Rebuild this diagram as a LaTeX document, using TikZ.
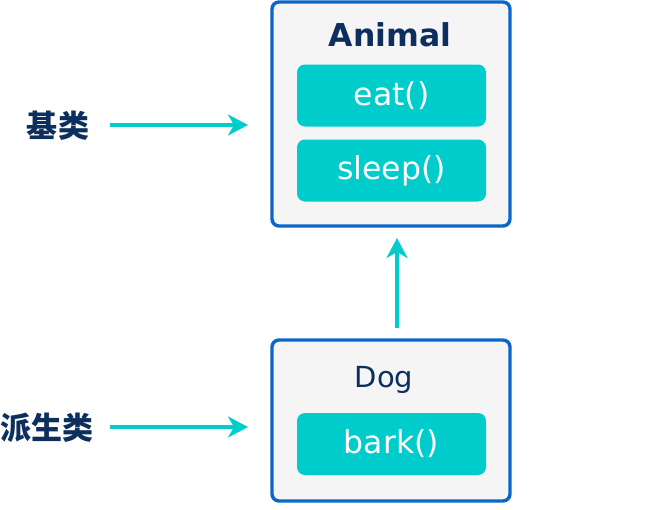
\documentclass[tikz,border=0pt]{standalone}
\usepackage{fontspec}
\setmainfont{DejaVu Sans}
\newfontfamily\cjk{Noto Sans CJK SC}
\usetikzlibrary{arrows.meta}
\definecolor{navy}{HTML}{0D2F5E}
\definecolor{boxblue}{HTML}{0A66C8}
\definecolor{teal}{HTML}{00CCCC}
\definecolor{panel}{HTML}{F5F5F6}
\begin{document}
\begin{tikzpicture}[x=1pt,y=-1pt,
  classbox/.style={draw=boxblue,line width=3.4pt,fill=panel,rounded corners=7pt},
  method/.style={fill=teal,rounded corners=8pt,text=white,font=\fontsize{31.5}{36}\selectfont,inner sep=0pt,minimum width=189pt,minimum height=62pt},
  lbl/.style={text=navy,font=\cjk\bfseries\fontsize{31}{34}\selectfont},
  link/.style={draw=teal,line width=3.2pt,-{Stealth[length=20pt,width=21pt,inset=6pt]}}]
\useasboundingbox (0,0) rectangle (650,509);
\draw[classbox] (272,2) rectangle (510,226);
\draw[classbox] (272,340) rectangle (510,501);
\node[text=navy,font=\bfseries\fontsize{31.5}{36}\selectfont] (animal) at (390,35) {Animal};
\node[method] (eat) at (391.5,95.5) {eat()};
\node[method] (sleep) at (391.5,170.5) {sleep()};
\node[text=navy,font=\fontsize{29}{34}\selectfont] (dog) at (384,380) {Dog};
\node[method] (bark) at (391.5,444) {bark()};
\coordinate (dtop) at (397,328);
\coordinate (abot) at (397,238);
\draw[link] (dtop) -- (abot);
\node[lbl] (base) at (58,126) {基类};
\node[lbl] (derived) at (47,428) {派生类};
\coordinate (b1) at (110,125);
\coordinate (b2) at (248,125);
\coordinate (d1) at (110,427);
\coordinate (d2) at (248,427);
\draw[link] (b1) -- (b2);
\draw[link] (d1) -- (d2);
\end{tikzpicture}
\end{document}
